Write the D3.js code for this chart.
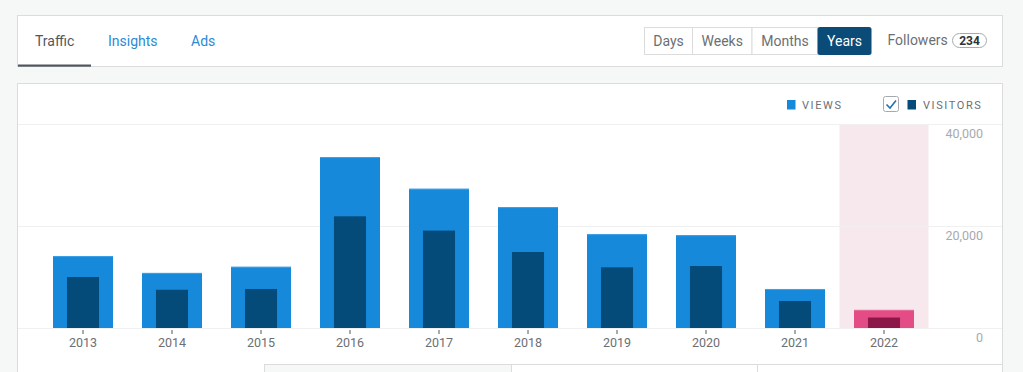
<!DOCTYPE html>
<html><head><meta charset="utf-8">
<script src="https://cdn.jsdelivr.net/npm/d3@7"></script>
<style>
html,body{margin:0;padding:0;background:#f6f7f7;}
svg{display:block;font-family:Roboto,"Noto Sans",sans-serif;}
</style></head>
<body><svg id="c" width="1023" height="372"></svg>
<script>
const years = ['2013','2014','2015','2016','2017','2018','2019','2020','2021','2022'];
const views = [14100, 10800, 12000, 33500, 27300, 23700, 18400, 18200, 7650, 3550];
const visitors = [10000, 7500, 7650, 21900, 19100, 14900, 11900, 12150, 5300, 2050];
const yTicks = [0, 20000, 40000];
const tabs = ['Traffic','Insights','Ads'];
const periods = ['Days','Weeks','Months','Years'];
const followers = '234';
const highlightYear = '2022';

const svg = d3.select('#c');

// top card
svg.append('rect').attr('x',17.5).attr('y',15.5).attr('width',985).attr('height',51)
  .attr('fill','#fff').attr('stroke','#dcdcde');
const tabX = [35,108,191];
tabs.forEach((t,i)=>{
  svg.append('text').attr('x',tabX[i]).attr('y',46).attr('font-size',14)
    .attr('fill', i===0 ? '#50575e' : '#2a8bd6').text(t);
});
svg.append('rect').attr('x',18).attr('y',64.5).attr('width',73).attr('height',2.2).attr('fill','#50575e');

const btnX = [644,692,751.5,817.5,870.5];
periods.forEach((p,i)=>{
  const sel = i===periods.length-1;
  svg.append('rect').attr('x',btnX[i]+0.5).attr('y',27.5).attr('width',btnX[i+1]-btnX[i]).attr('height',27)
    .attr('fill', sel ? '#0a4b78' : '#fff').attr('stroke', sel ? '#0a4b78' : '#dcdcde').attr('rx', sel?1.5:0);
  svg.append('text').attr('x',(btnX[i]+btnX[i+1])/2+0.5).attr('y',46).attr('text-anchor','middle')
    .attr('font-size',14).attr('fill', sel ? '#fff' : '#6b6f74').text(p);
});
svg.append('text').attr('x',887.5).attr('y',45).attr('font-size',14).attr('fill','#6b6f74').text('Followers');
svg.append('rect').attr('x',952.5).attr('y',33.5).attr('width',34).attr('height',14).attr('rx',7)
  .attr('fill','#fff').attr('stroke','#a7aaad');
svg.append('text').attr('x',969.5).attr('y',45).attr('text-anchor','middle').attr('font-size',12)
  .attr('font-weight','bold').attr('fill','#2c3338').text(followers);

// chart card
svg.append('rect').attr('x',17.5).attr('y',83.5).attr('width',985).attr('height',300)
  .attr('fill','#fff').attr('stroke','#dcdcde');

const x = d3.scaleBand().domain(years).range([38.5, 928.5]).padding(0);
const y = d3.scaleLinear().domain([0, 40000]).range([328, 124]);

// highlight column
svg.append('rect').attr('x',x(highlightYear)).attr('y',y(40000)).attr('width',x.bandwidth())
  .attr('height',y(0)-y(40000)).attr('fill','#f7e8ee');

// gridlines
svg.append('g').selectAll('line').data(yTicks).join('line')
  .attr('x1',18).attr('x2',1002).attr('y1',d=>y(d)+0.5).attr('y2',d=>y(d)+0.5)
  .attr('stroke','#f0f0f1');

// y labels
svg.append('g').selectAll('text').data(yTicks).join('text')
  .attr('x',983).attr('y',d=>y(d)+14).attr('text-anchor','end').attr('font-size',12.5)
  .attr('fill','#a7aaad').text(d=>d3.format(',')(d));

const bw = x.bandwidth();
const vW = bw*0.674, sW = bw*0.36;
svg.append('g').selectAll('rect').data(years).join('rect')
  .attr('x',(d)=>x(d)+(bw-vW)/2).attr('y',(d,i)=>y(views[i])).attr('width',vW)
  .attr('height',(d,i)=>y(0)-y(views[i]))
  .attr('fill',d=>d===highlightYear?'#e34c84':'#1689db');
svg.append('g').selectAll('rect').data(years).join('rect')
  .attr('x',(d)=>x(d)+(bw-vW)/2).attr('y',(d,i)=>y(views[i])).attr('width',vW).attr('height',1)
  .attr('fill',d=>d===highlightYear?'#ea6f9c':'#3fa0e6');
svg.append('g').selectAll('rect').data(years).join('rect')
  .attr('x',(d)=>x(d)+(bw-sW)/2).attr('y',(d,i)=>y(visitors[i])).attr('width',sW)
  .attr('height',(d,i)=>y(0)-y(visitors[i]))
  .attr('fill',d=>d===highlightYear?'#8c1749':'#044b7a');

// x axis
const xa = svg.append('g');
xa.selectAll('line').data(years).join('line')
  .attr('x1',d=>x(d)+bw/2).attr('x2',d=>x(d)+bw/2).attr('y1',330).attr('y2',334)
  .attr('stroke','#50575e').attr('stroke-width',1);
xa.selectAll('text').data(years).join('text')
  .attr('x',d=>x(d)+bw/2).attr('y',347).attr('text-anchor','middle').attr('font-size',12.5)
  .attr('fill','#6b6f74').text(d=>d);

// legend
svg.append('rect').attr('x',787).attr('y',100).attr('width',8.5).attr('height',9.5).attr('fill','#1689db');
svg.append('text').attr('x',802).attr('y',109).attr('font-size',11).attr('letter-spacing',1.6)
  .attr('fill','#6b6f74').text('VIEWS');
svg.append('rect').attr('x',883.5).attr('y',96.5).attr('width',15).attr('height',15).attr('rx',2)
  .attr('fill','#fff').attr('stroke','#a7aaad');
svg.append('path').attr('d','M886.5,104.5 L890,108 L896,100.5').attr('fill','none')
  .attr('stroke','#2271b1').attr('stroke-width',1.6);
svg.append('rect').attr('x',907.5).attr('y',100).attr('width',8.5).attr('height',9.5).attr('fill','#044b7a');
svg.append('text').attr('x',923).attr('y',109).attr('font-size',11).attr('letter-spacing',1.6)
  .attr('fill','#6b6f74').text('VISITORS');

// bottom boxes
const boxX = [264.5, 511.5, 757.5, 1002.5];
for (let i=0;i<3;i++){
  svg.append('rect').attr('x',boxX[i]).attr('y',364.5).attr('width',boxX[i+1]-boxX[i]).attr('height',20)
    .attr('fill', i===0 ? '#f6f7f7' : '#fff').attr('stroke','#dcdcde');
}
</script></body></html>
